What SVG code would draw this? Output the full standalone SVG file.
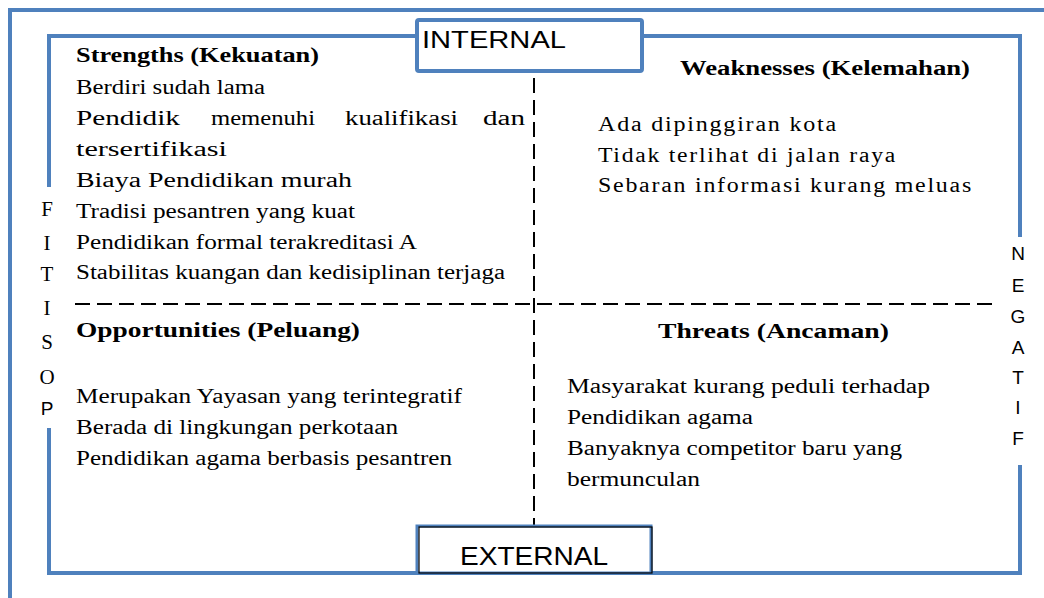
<svg xmlns="http://www.w3.org/2000/svg" width="1044" height="598" viewBox="0 0 1044 598">
<style>
.frame{fill:none;stroke:#4F81BD;stroke-width:4;stroke-linejoin:miter}
.dash{fill:none;stroke:#000;stroke-width:2;stroke-dasharray:15 7}
.t{font-family:"Liberation Serif","Times New Roman",serif;font-size:20.5px;fill:#000}
.w{font-family:"Liberation Serif","Times New Roman",serif;font-size:20.5px;letter-spacing:1.5px;fill:#000}
.b{font-family:"Liberation Serif","Times New Roman",serif;font-size:20.5px;font-weight:bold;fill:#000}
.s{font-family:"Liberation Sans",Arial,sans-serif;fill:#000}
.v{font-family:"Liberation Serif","Times New Roman",serif;font-size:21px;fill:#000;text-anchor:middle}
.vs{font-family:"Liberation Sans",Arial,sans-serif;font-size:19px;fill:#000;text-anchor:middle}
</style>
<rect width="1044" height="598" fill="#fff"/>
<g id="frames">
<path class="frame" d="M10,598 L10,10 L1044,10"/>
<path class="frame" d="M49,187 L49,36 L417,36 M642,36 L1020,36 L1020,237 M1020,465 L1020,573 L49,573 L49,428"/>
</g>
<g id="connectors">
<line class="dash" x1="534" y1="78" x2="534" y2="526"/>
<line class="dash" x1="75" y1="304" x2="998" y2="304"/>
</g>
<g id="internal">
<rect x="417" y="20" width="225" height="51" rx="2" fill="#fff" stroke="#4F81BD" stroke-width="4"/>
<text class="s" x="422" y="48" font-size="23" textLength="144" lengthAdjust="spacingAndGlyphs">INTERNAL</text>
</g>
<g id="external">
<rect x="417" y="526" width="234" height="47" fill="#fff" stroke="#4F81BD" stroke-width="3"/>
<rect x="419" y="527" width="233" height="46" fill="none" stroke="#000" stroke-width="1.2"/>
<text class="s" x="460" y="565" font-size="25" textLength="148" lengthAdjust="spacingAndGlyphs">EXTERNAL</text>
</g>
<g id="fitisop">
<text class="v" x="47" y="216">F</text>
<text class="v" x="47" y="250">I</text>
<text class="v" x="47" y="281">T</text>
<text class="v" x="47" y="315">I</text>
<text class="v" x="47" y="349">S</text>
<text class="v" x="47" y="384">O</text>
<text class="vs" x="47" y="415">P</text>
</g>
<g id="negatif">
<text class="vs" x="1018" y="260">N</text>
<text class="vs" x="1018" y="292">E</text>
<text class="vs" x="1018" y="323">G</text>
<text class="vs" x="1018" y="354">A</text>
<text class="vs" x="1018" y="384">T</text>
<text class="vs" x="1018" y="414">I</text>
<text class="vs" x="1018" y="445">F</text>
</g>
<g id="strengths">
<text class="b" x="76" y="62" textLength="243" lengthAdjust="spacingAndGlyphs">Strengths (Kekuatan)</text>
<text class="t" x="76" y="94" textLength="189" lengthAdjust="spacingAndGlyphs">Berdiri sudah lama</text>
<text class="t" y="125"><tspan x="76" textLength="104" lengthAdjust="spacingAndGlyphs">Pendidik</tspan><tspan x="211" textLength="104" lengthAdjust="spacingAndGlyphs">memenuhi</tspan><tspan x="345" textLength="113" lengthAdjust="spacingAndGlyphs">kualifikasi</tspan><tspan x="483" textLength="42" lengthAdjust="spacingAndGlyphs">dan</tspan></text>
<text class="t" x="76" y="156" textLength="151" lengthAdjust="spacingAndGlyphs">tersertifikasi</text>
<text class="t" x="76" y="187" textLength="276" lengthAdjust="spacingAndGlyphs">Biaya Pendidikan murah</text>
<text class="t" x="76" y="218" textLength="279" lengthAdjust="spacingAndGlyphs">Tradisi pesantren yang kuat</text>
<text class="t" x="76" y="249" textLength="341" lengthAdjust="spacingAndGlyphs">Pendidikan formal terakreditasi A</text>
<text class="t" x="76" y="279" textLength="429" lengthAdjust="spacingAndGlyphs">Stabilitas kuangan dan kedisiplinan terjaga</text>
</g>
<g id="weaknesses">
<text class="b" x="680" y="75" textLength="290" lengthAdjust="spacingAndGlyphs">Weaknesses (Kelemahan)</text>
<text class="w" x="598" y="131" textLength="240" lengthAdjust="spacingAndGlyphs">Ada dipinggiran kota</text>
<text class="w" x="598" y="162" textLength="299" lengthAdjust="spacingAndGlyphs">Tidak terlihat di jalan raya</text>
<text class="w" x="598" y="192" textLength="375" lengthAdjust="spacingAndGlyphs">Sebaran informasi kurang meluas</text>
</g>
<g id="opportunities">
<text class="b" x="76" y="337" textLength="284" lengthAdjust="spacingAndGlyphs">Opportunities  (Peluang)</text>
<text class="t" x="76" y="403" textLength="386" lengthAdjust="spacingAndGlyphs">Merupakan Yayasan yang terintegratif</text>
<text class="t" x="76" y="434" textLength="322" lengthAdjust="spacingAndGlyphs">Berada di lingkungan perkotaan</text>
<text class="t" x="76" y="465" textLength="376" lengthAdjust="spacingAndGlyphs">Pendidikan agama berbasis pesantren</text>
</g>
<g id="threats">
<text class="b" x="658" y="338" textLength="231" lengthAdjust="spacingAndGlyphs">Threats (Ancaman)</text>
<text class="t" x="567" y="393" textLength="363" lengthAdjust="spacingAndGlyphs">Masyarakat kurang peduli terhadap</text>
<text class="t" x="567" y="424" textLength="186" lengthAdjust="spacingAndGlyphs">Pendidikan agama</text>
<text class="t" x="567" y="455" textLength="335" lengthAdjust="spacingAndGlyphs">Banyaknya competitor baru yang</text>
<text class="t" x="567" y="486" textLength="133" lengthAdjust="spacingAndGlyphs">bermunculan</text>
</g>
</svg>
